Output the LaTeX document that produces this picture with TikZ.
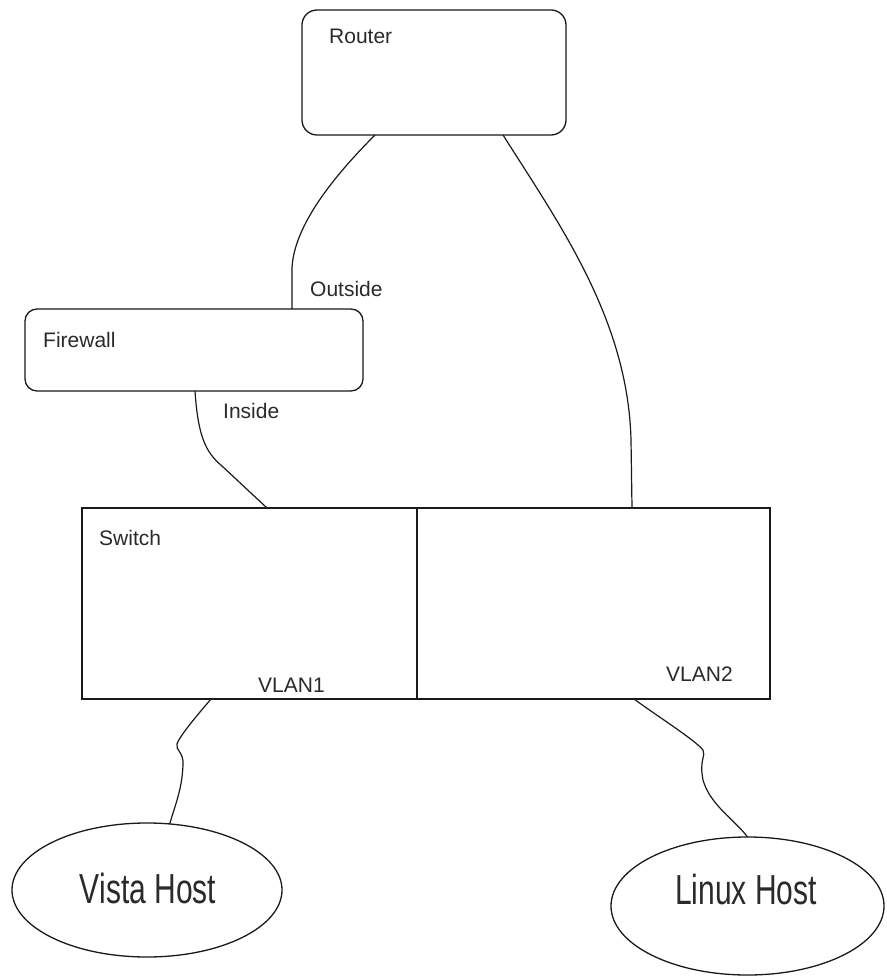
\documentclass[tikz,border=0pt]{standalone}
\usepackage{fontspec}
\setmainfont{Liberation Sans}
\usetikzlibrary{shapes.geometric,calc}
\definecolor{ink}{HTML}{1A1A1A}
\definecolor{txt}{HTML}{2A2A2A}
\begin{document}
\begin{tikzpicture}[x=1pt,y=-1pt,
  box/.style={draw=ink,line width=1.3pt,rounded corners=#1,inner sep=0pt,outer sep=0pt},
  box/.default=0pt,
  hostshape/.style={draw=ink,line width=1.3pt,ellipse,inner sep=0pt,outer sep=0pt},
  lbl/.style={inner sep=0pt,anchor=base west,text=txt,font=\fontsize{21}{25}\selectfont},
  hostlbl/.style={inner sep=0pt,text=txt,font=\fontsize{30}{36}\selectfont},
  wire/.style={draw=ink,line width=1.2pt}]
\useasboundingbox[fill=white] (0,0) rectangle (886,976);

% nodes
\node[box=15pt,minimum width=264pt,minimum height=125pt] (router) at (434,72.5) {};
\node[box=12pt,minimum width=338pt,minimum height=82pt] (firewall) at (194,350) {};
\node[box,minimum width=335pt,minimum height=191pt] (swleft) at (249.5,603.5) {};
\node[box,minimum width=353pt,minimum height=191pt] (swright) at (593.5,603.5) {};
\node[hostshape,minimum width=270pt,minimum height=134pt] (vista) at (147,890) {};
\node[hostshape,minimum width=273pt,minimum height=138pt] (linux) at (747.5,906) {};

% labels
\node[lbl] (routerlbl) at (329,44) {Router};
\node[lbl] (firewalllbl) at (43,347) {Firewall};
\node[lbl] (outsidelbl) at (310,296) {Outside};
\node[lbl] (insidelbl) at (223,418) {Inside};
\node[lbl] (switchlbl) at (99,545) {Switch};
\node[lbl] (vlan1lbl) at (258,692) {VLAN1};
\node[lbl] (vlan2lbl) at (666,681) {VLAN2};
\node[hostlbl] (vistalbl) at (148,888) {\scalebox{1}[1.4]{Vista Host}};
\node[hostlbl] (linuxlbl) at (746,889) {\scalebox{1}[1.4]{Linux Host}};

% connectors
\draw[wire] ($(router.south west)+(73,0)$) .. controls (335,175) and (294,225) .. (292,268) -- ($(firewall.north west)+(267,0)$);
\draw[wire] ($(firewall.south west)+(170,0)$) .. controls (198,435) and (205,452) .. (222,466) -- ($(swleft.north west)+(185,0)$);
\draw[wire] ($(router.south west)+(201,0)$) .. controls (560,225) and (628,320) .. (631,440) -- ($(swright.north west)+(215,0)$);
\draw[wire] ($(swleft.south west)+(129,0)$) .. controls (200,712) and (180,735) .. (177,744) .. controls (175,750) and (184,752) .. (183,765) .. controls (182,790) and (175,805) .. (vista.71);
\draw[wire] ($(swright.south west)+(217,0)$) .. controls (660,718) and (695,740) .. (703,750) .. controls (706,756) and (699,760) .. (703,780) .. controls (710,805) and (735,820) .. (linux.north);
\end{tikzpicture}
\end{document}
